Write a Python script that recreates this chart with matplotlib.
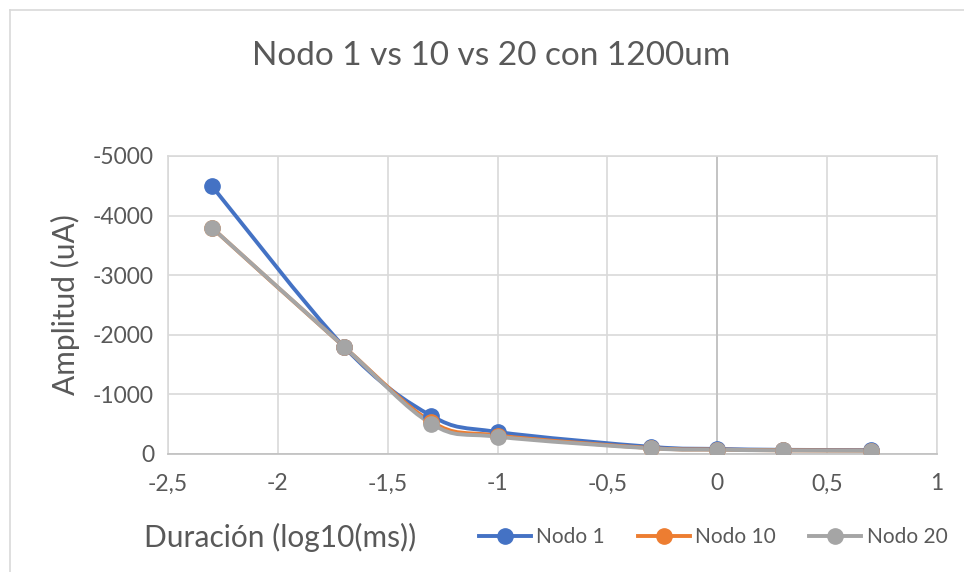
import matplotlib
matplotlib.use('Agg')
import matplotlib.pyplot as plt
from matplotlib.path import Path
from matplotlib.patches import PathPatch
from matplotlib.lines import Line2D

# Datos (duracion en log10(ms), amplitud en uA)
duracion = [-2.301, -1.699, -1.301, -1.0, -0.301, 0.0, 0.301, 0.699]
nodo_1 = [-4500, -1800, -640, -370, -120, -85, -70, -65]
nodo_10 = [-3800, -1800, -540, -310, -100, -75, -62, -58]
nodo_20 = [-3800, -1800, -505, -290, -95, -72, -60, -55]

series = [('Nodo 1', nodo_1, '#4472C4'),
          ('Nodo 10', nodo_10, '#ED7D31'),
          ('Nodo 20', nodo_20, '#A5A5A5')]

x_ticks = [-2.5, -2, -1.5, -1, -0.5, 0, 0.5, 1]
y_ticks = [0, -1000, -2000, -3000, -4000, -5000]

txt = '#595959'
fuente = 'Lato'
plt.rcParams['font.family'] = [fuente, 'DejaVu Sans']


def curva_suave(xs, ys):
    # linea suavizada tipo Excel (bezier con puntos de control a 1/6)
    pts = list(zip(xs, ys))
    verts = [pts[0]]
    codes = [Path.MOVETO]
    n = len(pts)
    for i in range(n - 1):
        p0 = pts[i - 1] if i > 0 else pts[i]
        p1 = pts[i]
        p2 = pts[i + 1]
        p3 = pts[i + 2] if i + 2 < n else pts[i + 1]
        c1 = (p1[0] + (p2[0] - p0[0]) / 6, p1[1] + (p2[1] - p0[1]) / 6)
        c2 = (p2[0] - (p3[0] - p1[0]) / 6, p2[1] - (p3[1] - p1[1]) / 6)
        verts += [c1, c2, p2]
        codes += [Path.CURVE4] * 3
    return Path(verts, codes)


fig = plt.figure(figsize=(9.64, 5.72), dpi=100)
ax = fig.add_axes([168 / 964, 118 / 572, 769 / 964, 298 / 572])

for nombre, valores, color in series:
    ax.add_patch(PathPatch(curva_suave(duracion, valores), fill=False,
                           edgecolor=color, lw=2.8, capstyle='round',
                           joinstyle='round', zorder=3))
    ax.plot(duracion, valores, 'o', color=color, markersize=11, zorder=4)

ax.set_xlim(-2.5, 1)
ax.set_ylim(0, -5000)
ax.set_xticks(x_ticks)
ax.set_xticklabels([('%g' % v).replace('.', ',') for v in x_ticks])
ax.set_yticks(y_ticks)
ax.set_yticklabels(['%d' % v for v in y_ticks])
ax.tick_params(length=0, labelsize=16.5, colors=txt)
ax.tick_params(axis='x', pad=14)
ax.tick_params(axis='y', pad=10)

ax.grid(True, color='#D9D9D9', lw=1.2)
ax.set_axisbelow(True)
for lado in ['left', 'right', 'top']:
    ax.spines[lado].set_color('#D9D9D9')
    ax.spines[lado].set_linewidth(1.2)
ax.spines['bottom'].set_color('#BFBFBF')
ax.spines['bottom'].set_linewidth(1.2)
ax.axvline(0, color='#BFBFBF', lw=1.2, zorder=1)

fig.text(491 / 964, 1 - 56 / 572, 'Nodo 1 vs 10 vs 20 con 1200um',
         ha='center', va='center', fontsize=24, color=txt)
fig.text(65 / 964, 1 - 305 / 572, 'Amplitud (uA)', rotation=90,
         ha='center', va='center', fontsize=21.5, color=txt)
fig.text(280 / 964, 1 - 537 / 572, 'Duración (log10(ms))',
         ha='center', va='center', fontsize=21.5, color=txt)

handles = [Line2D([], [], color=c, lw=2.8, marker='o', markersize=11)
           for _, _, c in series]
fig.legend(handles, [s[0] for s in series], loc='center',
           bbox_to_anchor=(713 / 964, 1 - 537 / 572), ncol=3, frameon=False,
           fontsize=15, labelcolor=txt, handlelength=2.5, handletextpad=0.25,
           columnspacing=1.6)

# borde del grafico
fig.add_artist(Line2D([10 / 964, 10 / 964], [0, 1 - 10 / 572],
                      color='#D9D9D9', lw=1.2, transform=fig.transFigure))
fig.add_artist(Line2D([10 / 964, 1], [1 - 10 / 572, 1 - 10 / 572],
                      color='#D9D9D9', lw=1.2, transform=fig.transFigure))

plt.savefig('out.png', dpi=100)
